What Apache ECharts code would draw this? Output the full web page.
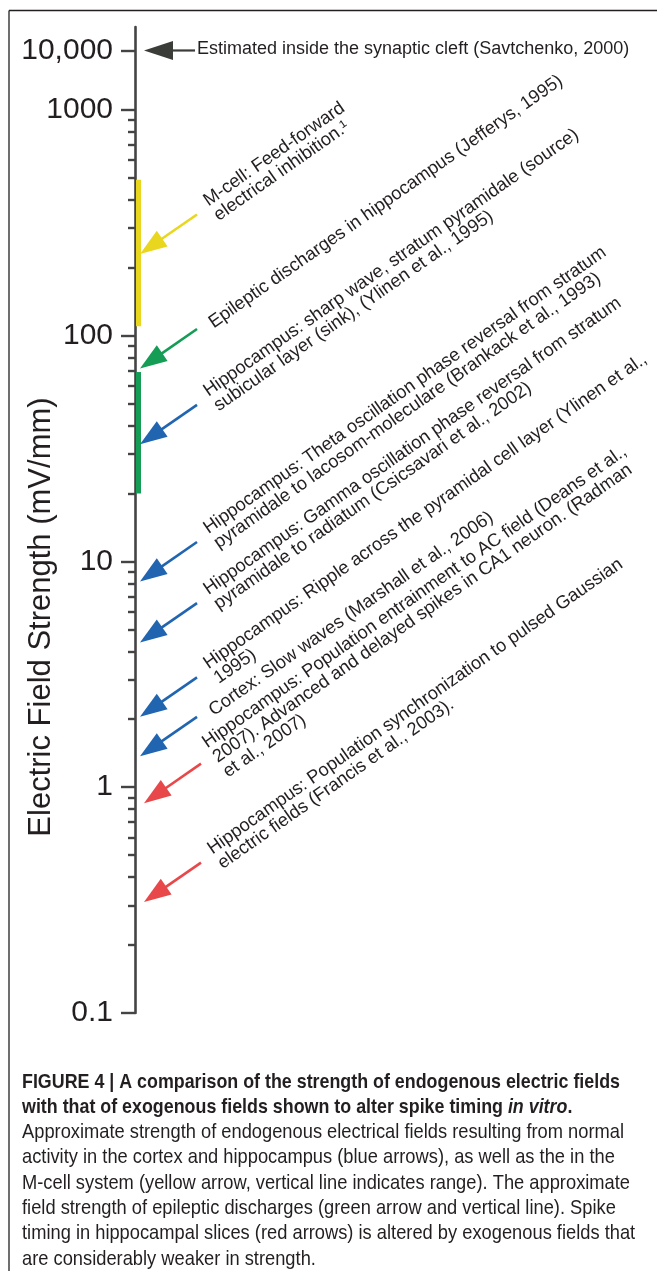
<!DOCTYPE html>
<html><head><meta charset="utf-8">
<script src="https://cdn.jsdelivr.net/npm/echarts/dist/echarts.min.js"></script>
<style>html,body{margin:0;padding:0;background:#fff}#c{width:657px;height:1271px}</style>
</head><body><div id="c"></div>
<script>
// ---- data ----
const tickValues = [0.1, 1, 10, 100, 1000, 10000];
const tickLabels = ['0.1', '1', '10', '100', '1000', '10,000'];
const arrowValues = [10000, 230, 71.5, 33, 8.15, 4.37, 2.05, 1.37, 0.85, 0.31];
const arrowGroups = ['black', 'yellow', 'green', 'blue', 'blue', 'blue', 'blue', 'blue', 'red', 'red'];
const arrowLabels = [
  ['Estimated inside the synaptic cleft (Savtchenko, 2000)'],
  ['M-cell: Feed-forward', 'electrical inhibition.\u00b9'],
  ['Epileptic discharges in hippocampus (Jefferys, 1995)'],
  ['Hippocampus: sharp wave, stratum pyramidale (source)', 'subicular layer (sink), (Ylinen et al., 1995)'],
  ['Hippocampus: Theta oscillation phase reversal from stratum', 'pyramidale to lacosom-moleculare (Brankack et al., 1993)'],
  ['Hippocampus: Gamma oscillation phase reversal from stratum', 'pyramidale to radiatum (Csicsavari et al., 2002)'],
  ['Hippocampus: Ripple across the pyramidal cell layer (Ylinen et al.,', '1995)'],
  ['Cortex: Slow waves (Marshall et al., 2006)'],
  ['Hippocampus: Population entrainment to AC field (Deans et al.,', '2007). Advanced and delayed spikes in CA1 neuron. (Radman', 'et al., 2007)'],
  ['Hippocampus: Population synchronization to pulsed Gaussian', 'electric fields (Francis et al., 2003).']
];
const rangeLow = [110, 20];
const rangeHigh = [490, 69];
const rangeGroups = ['yellow', 'green'];
const axisTitle = 'Electric Field Strength (mV/mm)';
const captionTitle1 = 'FIGURE 4 | A comparison of the strength of endogenous electric fields';
const captionTitle2 = ['with that of exogenous fields shown to alter spike timing ', 'in vitro', '.'];
const captionBody = [
  'Approximate strength of endogenous electrical fields resulting from normal',
  'activity in the cortex and hippocampus (blue arrows), as well as the in the',
  'M-cell system (yellow arrow, vertical line indicates range). The approximate',
  'field strength of epileptic discharges (green arrow and vertical line). Spike',
  'timing in hippocampal slices (red arrows) is altered by exogenous fields that',
  'are considerably weaker in strength.'
];

// ---- styles ----
const FONT = '"Liberation Sans", Arial, Helvetica, sans-serif';
const TXT = '#231f20';
const AX = '#444444';
const COLORS = { black: '#3b3d38', yellow: '#e9d71f', green: '#159c55', blue: '#2165b1', red: '#e8484a' };
const CAP = 21;

// broken log axis: upper decade (1000..10000) compressed
function axisPos(v) { const l = Math.log10(v); return l <= 3 ? l : 3 + (l - 3) * 0.263; }
const majorPos = tickValues.map(axisPos);
const minorPos = [];
[0.1, 1, 10, 100].forEach(d => { for (let k = 2; k <= 9; k++) minorPos.push(Math.log10(k * d)); });

const chart = echarts.init(document.getElementById('c'), null, { renderer: 'canvas' });

// caption condensation factors
const mctx = document.createElement('canvas').getContext('2d');
mctx.font = 'bold ' + CAP + 'px ' + FONT;
const sxBold = 598 / mctx.measureText(captionTitle1).width;
mctx.font = CAP + 'px ' + FONT;
const sxBody = 602 / mctx.measureText(captionBody[0]).width;

const TH = 35 * Math.PI / 180;
const U = [Math.cos(TH), -Math.sin(TH)], V = [Math.sin(TH), Math.cos(TH)];

function arrowShape(tip, tail, col, L, W, lw) {
  const dx = tail[0] - tip[0], dy = tail[1] - tip[1];
  const len = Math.hypot(dx, dy);
  const d = [dx / len, dy / len], n = [-d[1], d[0]];
  const b = [tip[0] + d[0] * L, tip[1] + d[1] * L];
  return [
    { type: 'line', shape: { x1: b[0] - d[0] * 3, y1: b[1] - d[1] * 3, x2: tail[0], y2: tail[1] }, style: { stroke: col, lineWidth: lw } },
    { type: 'polygon', shape: { points: [tip, [b[0] + n[0] * W, b[1] + n[1] * W], [b[0] - n[0] * W, b[1] - n[1] * W]] }, style: { fill: col } }
  ];
}

const captionGraphics = [];
captionGraphics.push({ type: 'text', x: 22, y: 1082, scaleX: sxBold, style: { text: captionTitle1, font: 'bold ' + CAP + 'px ' + FONT, fill: TXT, verticalAlign: 'middle' } });
captionGraphics.push({ type: 'text', x: 22, y: 1107, scaleX: sxBold, style: {
  text: '{b|' + captionTitle2[0] + '}{bi|' + captionTitle2[1] + '}{b|' + captionTitle2[2] + '}',
  verticalAlign: 'middle',
  rich: { b: { font: 'bold ' + CAP + 'px ' + FONT, fill: TXT }, bi: { font: 'italic bold ' + CAP + 'px ' + FONT, fill: TXT } }
} });
captionBody.forEach((t, i) => {
  captionGraphics.push({ type: 'text', x: 22, y: 1132 + i * 25.4, scaleX: sxBody, style: { text: t, font: CAP + 'px ' + FONT, fill: TXT, verticalAlign: 'middle' } });
});

const option = {
  animation: false,
  backgroundColor: '#fff',
  grid: { left: 135, right: 10, top: 27, bottom: 258 },
  xAxis: { type: 'value', min: 0, max: 1, show: false },
  yAxis: [
    {
      type: 'value', min: -1, max: 3.367, position: 'left',
      axisLine: { show: true, lineStyle: { color: AX, width: 2.6 } },
      axisTick: { show: true, length: 14, lineStyle: { color: AX, width: 2.4 }, customValues: majorPos },
      axisLabel: {
        show: true, customValues: majorPos, margin: 22, fontSize: 30, color: TXT, fontFamily: FONT,
        formatter: function (val) {
          let bi = 0, bd = 1e9;
          majorPos.forEach((p, i) => { const dd = Math.abs(p - val); if (dd < bd) { bd = dd; bi = i; } });
          return tickLabels[bi];
        }
      },
      splitLine: { show: false }
    },
    {
      type: 'value', min: -1, max: 3.367, position: 'left',
      axisLine: { show: false },
      axisTick: { show: true, length: 7, lineStyle: { color: AX, width: 2.4 }, customValues: minorPos },
      axisLabel: { show: false },
      splitLine: { show: false }
    }
  ],
  series: [
    {
      type: 'custom', z: 5,
      data: rangeLow.map((v, i) => [0, axisPos(v), axisPos(rangeHigh[i]), i]),
      renderItem: function (params, api) {
        const i = api.value(3);
        const p1 = api.coord([0, api.value(1)]);
        const p2 = api.coord([0, api.value(2)]);
        return { type: 'rect', shape: { x: p1[0] + 1, y: p2[1], width: 5, height: p1[1] - p2[1] }, style: { fill: COLORS[rangeGroups[i]] } };
      }
    },
    {
      type: 'custom', z: 6,
      data: arrowValues.map((v, i) => [0, axisPos(v), i]),
      renderItem: function (params, api) {
        const i = api.value(2);
        const p = api.coord([0, api.value(1)]);
        const g = arrowGroups[i];
        const col = COLORS[g];
        const lines = arrowLabels[i];
        let children;
        if (g === 'black') {
          const tip = [p[0] + 9, p[1]], tail = [p[0] + 60, p[1]];
          children = arrowShape(tip, tail, col, 29, 9.5, 2.2);
          children.push({ type: 'text', x: tail[0] + 2, y: p[1] - 1, style: { text: lines.join('\n'), font: '18px ' + FONT, fill: TXT, verticalAlign: 'middle', align: 'left' } });
        } else {
          const shift = g === 'red' ? 9 : 5;
          const tip = [p[0] + shift, p[1]];
          const tail = [tip[0] + 57, tip[1] - 39.5];
          children = arrowShape(tip, tail, col, 27, 9.5, 2.6);
          const cx = tail[0] + 14 * U[0] + 4 * V[0], cy = tail[1] + 14 * U[1] + 4 * V[1];
          children.push({ type: 'text', x: cx, y: cy, rotation: TH, style: { text: lines.join('\n'), font: '18.3px ' + FONT, lineHeight: 18, fill: TXT, verticalAlign: 'middle', align: 'left' } });
        }
        return { type: 'group', children: children };
      }
    }
  ],
  graphic: [
    { type: 'line', shape: { x1: 9, y1: 10.5, x2: 657, y2: 10.5 }, style: { stroke: TXT, lineWidth: 1.3 } },
    { type: 'line', shape: { x1: 9, y1: 10.5, x2: 9, y2: 1271 }, style: { stroke: TXT, lineWidth: 1.3 } },
    { type: 'text', x: 41, y: 617, rotation: Math.PI / 2, style: { text: axisTitle, font: '31px ' + FONT, fill: TXT, align: 'center', verticalAlign: 'middle' } }
  ].concat(captionGraphics)
};
chart.setOption(option);
</script>
</body></html>
